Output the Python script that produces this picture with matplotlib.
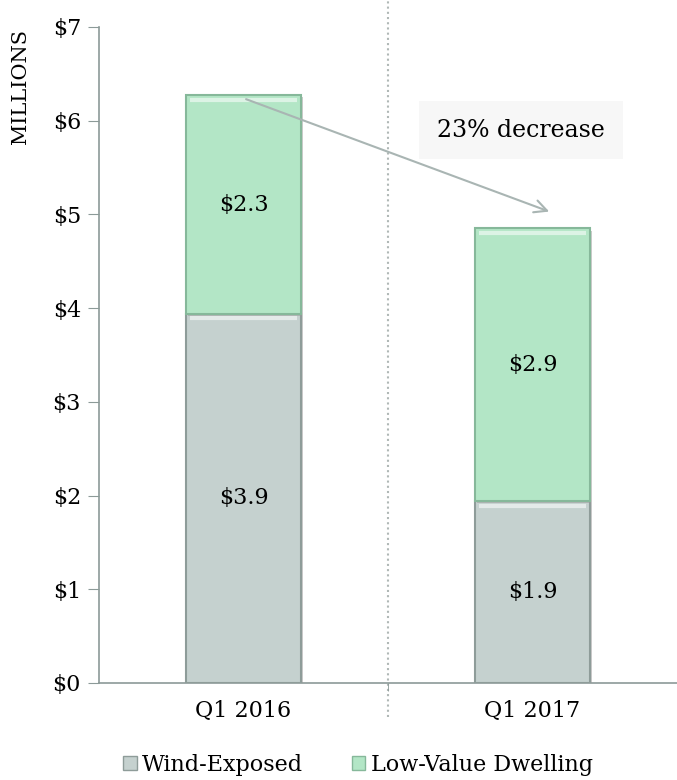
import matplotlib.pyplot as plt
import matplotlib.patheffects as pe
from matplotlib.patches import Patch

plt.rcParams['font.family'] = ['DejaVu Serif']

quarters = ["Q1 2016", "Q1 2017"]
wind_exposed = [3.94, 1.94]
low_value = [2.33, 2.91]
series_names = ["Wind-Exposed", "Low-Value Dwelling"]
change_label = "23% decrease"

gray = "#c5d1cf"
gray_edge = "#8e9c99"
green = "#b3e6c6"
green_edge = "#86b89a"
axis_col = "#8c9a98"

fig = plt.figure(figsize=(6.77, 7.8), dpi=100)
ax = fig.add_axes([0.1462, 0.1244, 0.8538, 0.841])

x = list(range(len(quarters)))
shadow = [pe.withSimplePatchShadow(offset=(1.5, -1.5), shadow_rgbFace="#999999", alpha=0.5)]
b1 = ax.bar(x, wind_exposed, width=0.4, color=gray, edgecolor=gray_edge, linewidth=1.5,
            path_effects=shadow, zorder=3)
b2 = ax.bar(x, low_value, width=0.4, bottom=wind_exposed, color=green, edgecolor=green_edge,
            linewidth=1.5, path_effects=shadow, zorder=3)

# light bevel at the top of each segment
for bars in (b1, b2):
    for r in bars:
        ax.plot([r.get_x() + 0.015, r.get_x() + r.get_width() - 0.015],
                [r.get_y() + r.get_height() - 0.05] * 2,
                color="white", lw=3, alpha=0.55, zorder=4, solid_capstyle="butt")

for i in x:
    ax.text(i, wind_exposed[i] / 2, f"${wind_exposed[i]:.1f}", ha="center", va="center",
            fontsize=16, zorder=5)
    ax.text(i, wind_exposed[i] + low_value[i] / 2, f"${low_value[i]:.1f}", ha="center",
            va="center", fontsize=16, zorder=5)

ax.set_xlim(-0.5, 1.5)
ax.set_ylim(0, 7)
ax.set_yticks(range(8))
ax.set_yticklabels([f"${v}" for v in range(8)], fontsize=16)
ax.set_xticks(x)
ax.set_xticklabels(quarters, fontsize=16)
ax.tick_params(axis="x", length=0, pad=12)
ax.tick_params(axis="y", length=8, color=axis_col, pad=5)
ax.set_xticks([0.5], minor=True)
ax.tick_params(axis="x", which="minor", length=6, color=axis_col)

for s in ("top", "right"):
    ax.spines[s].set_visible(False)
for s in ("left", "bottom"):
    ax.spines[s].set_color(axis_col)
    ax.spines[s].set_linewidth(1.2)

# dotted divider between categories
ax.axvline(0.5, ymin=-0.052, ymax=1.05, color="#b0b8b6", ls=(0, (1, 1.5)), lw=1.5,
           clip_on=False, zorder=1)

ax.text(-0.135, 0.91, "MILLIONS", transform=ax.transAxes, rotation=90, ha="center",
        va="center", fontsize=15)

# arrow from top of first bar to second bar
top0 = wind_exposed[0] + low_value[0]
top1 = wind_exposed[1] + low_value[1]
ax.annotate("", xy=(1.067, top1 + 0.17), xytext=(0, top0 - 0.03),
            arrowprops=dict(arrowstyle="->,head_length=0.9,head_width=0.45", color="#a9b5b3",
                            lw=1.5), zorder=6)
ax.text(0.96, 5.9, change_label, ha="center", va="center", fontsize=17, zorder=7,
        bbox=dict(boxstyle="square,pad=0.75", fc="#f7f7f7", ec="none"))

handles = [Patch(facecolor=gray, edgecolor=gray_edge), Patch(facecolor=green, edgecolor=green_edge)]
fig.legend(handles, series_names, loc="center", bbox_to_anchor=(0.529, 0.019), ncol=2,
           frameon=False, fontsize=16, handlelength=0.6, handleheight=0.6, handletextpad=0.25,
           columnspacing=2.2, borderpad=0)

fig.savefig("out.png", dpi=100)
